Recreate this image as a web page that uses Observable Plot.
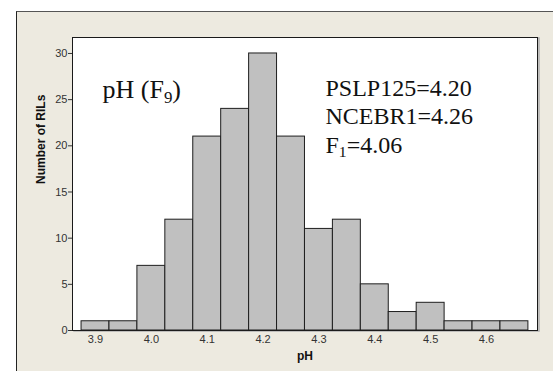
<!DOCTYPE html>
<html>
<head>
<meta charset="utf-8">
<script src="https://cdn.jsdelivr.net/npm/d3@7"></script>
<script src="https://cdn.jsdelivr.net/npm/@observablehq/plot@0.6"></script>
<style>
  html, body { margin: 0; padding: 0; background: #fff; }
  #wrap { position: relative; width: 553px; height: 371px; overflow: hidden; }
  #panel { position: absolute; left: 16px; top: 11px; right: -4px; bottom: -4px;
           background: #EDEAE0; border-left: 1px solid #222; border-top: 1px solid #555; }
  #chart { position: absolute; left: 0; top: 0; }
</style>
</head>
<body>
<div id="wrap"><div id="panel"></div><div id="chart"></div></div>
<script>
// Histogram of pH among the F9 recombinant inbred lines (bins of 0.05 pH units)
const binCenters = [3.90, 3.95, 4.00, 4.05, 4.10, 4.15, 4.20, 4.25,
                    4.30, 4.35, 4.40, 4.45, 4.50, 4.55, 4.60, 4.65];
const rilCounts  = [1, 1, 7, 12, 21, 24, 30, 21, 11, 12, 5, 2, 3, 1, 1, 1];
const binWidth = 0.05;

const xTicks = [3.9, 4.0, 4.1, 4.2, 4.3, 4.4, 4.5, 4.6];
const yTicks = [0, 5, 10, 15, 20, 25, 30];

const xTitle = "pH";
const yTitle = "Number of RILs";
// "_n" marks a subscript digit
const panelTitle = "pH (F_9)";
const parentNotes = ["PSLP125=4.20", "NCEBR1=4.26", "F_1=4.06"];

const bins = binCenters.map((c, i) => ({center: c, count: rilCounts[i]}));

const serif = "'Liberation Serif', 'Times New Roman', serif";
const sans = "'Liberation Sans', Arial, sans-serif";

const plot = Plot.plot({
  width: 553,
  height: 371,
  marginLeft: 72,
  marginRight: 16,
  marginTop: 37,
  marginBottom: 41,
  style: {background: "transparent", fontFamily: sans, fontSize: "11px", color: "#333"},
  x: {domain: [3.8588, 4.6913]},
  y: {domain: [0, 31.73]},
  marks: [
    // soft shadow along the right edge of the plot panel
    Plot.frame({stroke: "#b0b0b0", strokeWidth: 1.5, dx: 1.5, dy: 0.5}),
    Plot.frame({fill: "white", stroke: "#1a1a1a"}),
    Plot.rectY(bins, {
      x1: d => d.center - binWidth / 2,
      x2: d => d.center + binWidth / 2,
      y: "count",
      fill: "#c0c0c0",
      stroke: "#1e1e1e",
      strokeWidth: 1
    }),
    Plot.axisY(yTicks, {tickSize: 4, tickPadding: 1, label: null, fontSize: 11, color: "#333"}),
    Plot.axisX(xTicks, {tickSize: 0, tickPadding: 5, label: null, fontSize: 11, color: "#333",
                        tickFormat: d3.format(".1f")}),
    Plot.text([xTitle], {text: d => d, frameAnchor: "bottom", lineAnchor: "bottom", dy: 29,
                         fontWeight: "bold", fontSize: 12, fill: "#111"}),
    Plot.text([yTitle], {text: d => d, frameAnchor: "left", rotate: -90, dx: -31,
                         fontWeight: "bold", fontSize: 12, fill: "#111"}),
    Plot.text([panelTitle], {text: d => d, frameAnchor: "top-left", textAnchor: "start",
                             lineAnchor: "bottom", dx: 30, dy: 60, fontFamily: serif,
                             fontSize: 26, fill: "#111"}),
    ...parentNotes.map((note, i) =>
      Plot.text([note], {text: d => d, frameAnchor: "top-left", textAnchor: "start",
                         lineAnchor: "bottom", dx: 253, dy: 58 + i * 28.5, fontFamily: serif,
                         fontSize: 24, fill: "#111"}))
  ]
});

// Turn "_n" into a lowered, smaller subscript
d3.select(plot).selectAll("text")
  .filter(function () { return /_\d/.test(this.textContent); })
  .each(function () {
    const t = d3.select(this);
    const g = this.closest("g");
    const fs = parseFloat(t.attr("font-size")) || parseFloat(g && g.getAttribute("font-size")) || 24;
    const s = this.textContent;
    t.text(null);
    let shifted = false;
    s.split(/(_\d+)/).filter(p => p.length).forEach(part => {
      if (part.startsWith("_")) {
        t.append("tspan").attr("font-size", fs * 0.65).attr("dy", fs * 0.2).text(part.slice(1));
        shifted = true;
      } else {
        const sp = t.append("tspan").text(part);
        if (shifted) { sp.attr("dy", -fs * 0.2); shifted = false; }
      }
    });
  });

document.getElementById("chart").appendChild(plot);
</script>
</body>
</html>
